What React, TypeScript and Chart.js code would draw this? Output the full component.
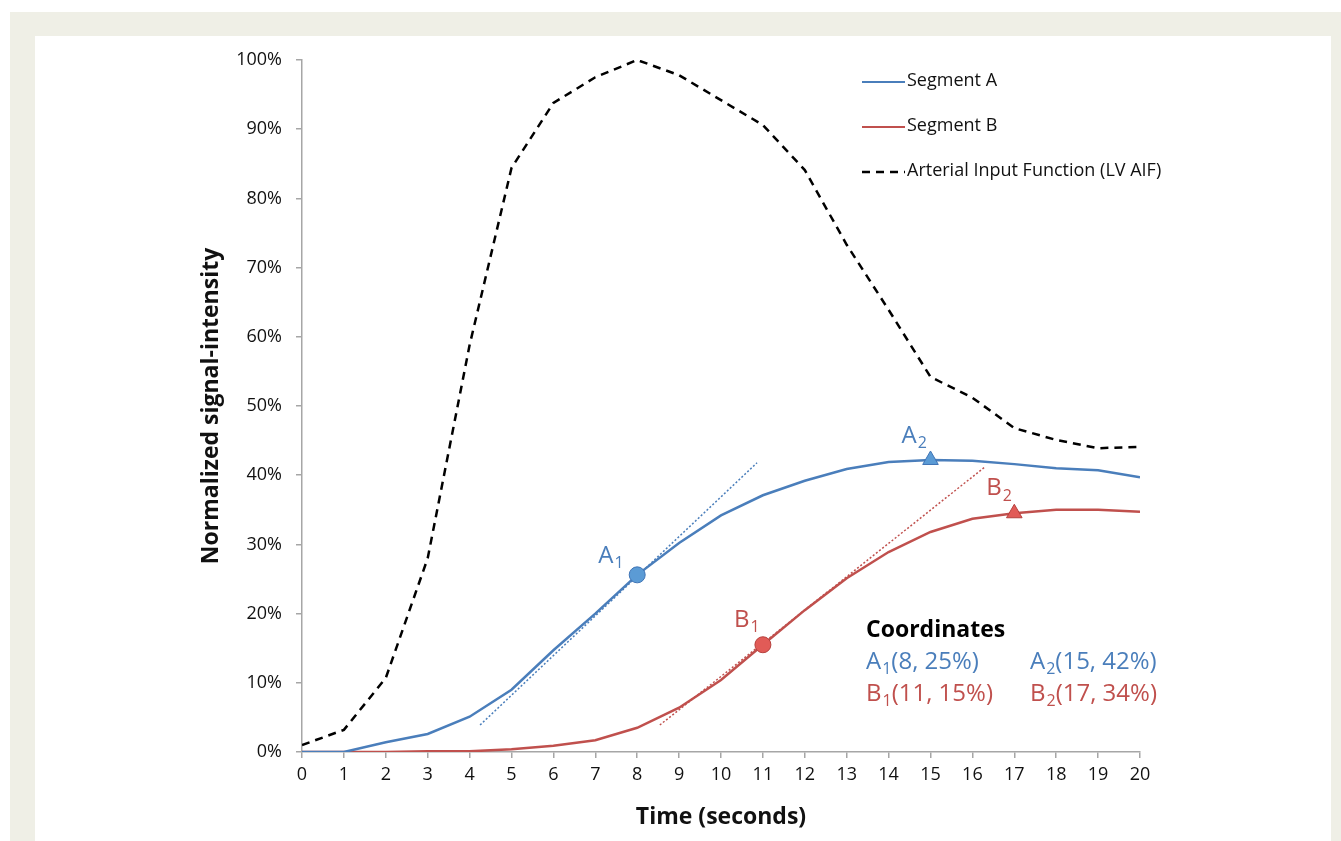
import React, { useEffect, useRef } from "react";
import { Chart, registerables } from "chart.js";

Chart.register(...registerables);

// ---- data ----
const timeSeconds = [0, 1, 2, 3, 4, 5, 6, 7, 8, 9, 10, 11, 12, 13, 14, 15, 16, 17, 18, 19, 20];
const segmentA = [0, 0, 1.4, 2.6, 5.1, 9.0, 14.7, 20.0, 25.6, 30.2, 34.2, 37.1, 39.2, 40.9, 41.9, 42.2, 42.1, 41.6, 41.0, 40.7, 39.7];
const segmentB = [0, 0, 0, 0.1, 0.1, 0.4, 0.9, 1.7, 3.5, 6.4, 10.4, 15.5, 20.5, 25.1, 28.9, 31.8, 33.7, 34.5, 35.0, 35.0, 34.7];
const arterialInput = [1.0, 3.2, 10.7, 28.0, 58.8, 84.4, 93.8, 97.5, 100, 97.8, 94.2, 90.6, 84.1, 73.3, 63.9, 54.2, 51.2, 46.8, 45.1, 43.9, 44.1];
const tangentAX = [4.25, 10.86];
const tangentAY = [3.9, 41.8];
const tangentBX = [8.54, 16.3];
const tangentBY = [3.9, 41.2];
const seriesNames = ["Segment A", "Segment B", "Arterial Input Function (LV AIF)"];
const pointTimesA = [8, 15];
const pointTimesB = [11, 17];
const coordTitle = "Coordinates";
const coordA = [["A", "1", "(8, 25%)"], ["A", "2", "(15, 42%)"]];
const coordB = [["B", "1", "(11, 15%)"], ["B", "2", "(17, 34%)"]];
const yTickMax = 100;

const BLUE = "#4a7ebb";
const RED = "#c0504d";
const FONT = "'Open Sans', Lato, sans-serif";

const pts = (xs: number[], ys: number[]) => xs.map((x, i) => ({ x, y: ys[i] }));
const seriesAt = (series: number[], times: number[]) =>
  times.map((t) => ({ x: t, y: series[timeSeconds.indexOf(t)] }));

function drawSub(ctx: CanvasRenderingContext2D, main: string, sub: string, tail: string, x: number, y: number, color: string, size: number) {
  ctx.save();
  ctx.fillStyle = color;
  ctx.textBaseline = "middle";
  ctx.textAlign = "left";
  ctx.font = `${size}px ${FONT}`;
  ctx.fillText(main, x, y);
  let cx = x + ctx.measureText(main).width;
  const subSize = Math.round(size * 0.68);
  ctx.font = `${subSize}px ${FONT}`;
  ctx.fillText(sub, cx + 1, y + size * 0.33);
  cx += ctx.measureText(sub).width + 1;
  ctx.font = `${size}px ${FONT}`;
  ctx.fillText(tail, cx, y);
  ctx.restore();
}

const annotations = {
  id: "annotations",
  afterDatasetsDraw(chart: any) {
    const ctx: CanvasRenderingContext2D = chart.ctx;
    const xs = chart.scales.x;
    const ys = chart.scales.y;
    const pA = seriesAt(segmentA, pointTimesA);
    const pB = seriesAt(segmentB, pointTimesB);
    // point labels
    drawSub(ctx, "A", "1", "", xs.getPixelForValue(pA[0].x) - 39, ys.getPixelForValue(pA[0].y) - 19, BLUE, 24);
    drawSub(ctx, "A", "2", "", xs.getPixelForValue(pA[1].x) - 29, ys.getPixelForValue(pA[1].y) - 24, BLUE, 24);
    drawSub(ctx, "B", "1", "", xs.getPixelForValue(pB[0].x) - 29, ys.getPixelForValue(pB[0].y) - 25, RED, 24);
    drawSub(ctx, "B", "2", "", xs.getPixelForValue(pB[1].x) - 28, ys.getPixelForValue(pB[1].y) - 25, RED, 24);

    // coordinates block
    ctx.save();
    ctx.fillStyle = "#000";
    ctx.textBaseline = "middle";
    ctx.font = `bold 23px ${FONT}`;
    ctx.fillText(coordTitle, 866, 630);
    ctx.restore();
    drawSub(ctx, coordA[0][0], coordA[0][1], coordA[0][2], 866, 662, BLUE, 24);
    drawSub(ctx, coordA[1][0], coordA[1][1], coordA[1][2], 1030, 662, BLUE, 24);
    drawSub(ctx, coordB[0][0], coordB[0][1], coordB[0][2], 866, 694, RED, 24);
    drawSub(ctx, coordB[1][0], coordB[1][1], coordB[1][2], 1030, 694, RED, 24);

    // legend
    const legendRows = [
      { name: seriesNames[0], color: BLUE, dash: [] as number[], y: 82 },
      { name: seriesNames[1], color: RED, dash: [] as number[], y: 127 },
      { name: seriesNames[2], color: "#000", dash: [8, 6], y: 172 },
    ];
    legendRows.forEach((r) => {
      ctx.save();
      ctx.strokeStyle = r.color;
      ctx.lineWidth = r.dash.length ? 2.5 : 2;
      ctx.setLineDash(r.dash);
      ctx.beginPath();
      ctx.moveTo(862, r.y);
      ctx.lineTo(905, r.y);
      ctx.stroke();
      ctx.setLineDash([]);
      ctx.fillStyle = "#111";
      ctx.textBaseline = "middle";
      ctx.font = `18px ${FONT}`;
      ctx.fillText(r.name, 907, r.y - 1);
      ctx.restore();
    });
  },
};

export default function App() {
  const ref = useRef<HTMLCanvasElement>(null);
  useEffect(() => {
    if (!ref.current) return;
    const chart = new Chart(ref.current, {
      type: "line",
      data: {
        datasets: [
          {
            label: "A markers circle",
            data: [seriesAt(segmentA, pointTimesA)[0]],
            showLine: false,
            pointStyle: "circle",
            pointRadius: 8,
            backgroundColor: "#5b9bd5",
            borderColor: "#3f74b5",
            borderWidth: 1,
            order: 0,
          },
          {
            label: "A markers tri",
            data: [seriesAt(segmentA, pointTimesA)[1]],
            showLine: false,
            pointStyle: "triangle",
            pointRadius: 9,
            backgroundColor: "#5b9bd5",
            borderColor: "#3f74b5",
            borderWidth: 1,
            order: 0,
          },
          {
            label: "B markers circle",
            data: [seriesAt(segmentB, pointTimesB)[0]],
            showLine: false,
            pointStyle: "circle",
            pointRadius: 8,
            backgroundColor: "#e15b57",
            borderColor: "#b5403d",
            borderWidth: 1,
            order: 0,
          },
          {
            label: "B markers tri",
            data: [seriesAt(segmentB, pointTimesB)[1]],
            showLine: false,
            pointStyle: "triangle",
            pointRadius: 9,
            backgroundColor: "#e15b57",
            borderColor: "#b5403d",
            borderWidth: 1,
            order: 0,
          },
          {
            label: seriesNames[0],
            data: pts(timeSeconds, segmentA),
            borderColor: BLUE,
            borderWidth: 2.5,
            pointRadius: 0,
            tension: 0,
            order: 2,
          },
          {
            label: seriesNames[1],
            data: pts(timeSeconds, segmentB),
            borderColor: RED,
            borderWidth: 2.5,
            pointRadius: 0,
            tension: 0,
            order: 2,
          },
          {
            label: seriesNames[2],
            data: pts(timeSeconds, arterialInput),
            borderColor: "#000",
            borderWidth: 2.5,
            borderDash: [8, 6],
            pointRadius: 0,
            tension: 0,
            order: 3,
          },
          {
            label: "tangent A",
            data: pts(tangentAX, tangentAY),
            borderColor: BLUE,
            borderWidth: 1.5,
            borderDash: [2, 2],
            pointRadius: 0,
            order: 1,
          },
          {
            label: "tangent B",
            data: pts(tangentBX, tangentBY),
            borderColor: RED,
            borderWidth: 1.5,
            borderDash: [2, 2],
            pointRadius: 0,
            order: 1,
          },
        ],
      },
      options: {
        responsive: false,
        animation: false,
        devicePixelRatio: 1,
        layout: { padding: { left: 190, top: 60, right: 201, bottom: 0 } },
        plugins: { legend: { display: false }, tooltip: { enabled: false } },
        scales: {
          x: {
            type: "linear",
            min: 0,
            max: 20,
            afterFit: (s: any) => {
              s.height = 89;
            },
            ticks: {
              stepSize: 1,
              color: "#111",
              padding: 6,
              maxRotation: 0,
              font: { family: FONT, size: 18 },
            },
            grid: {
              drawOnChartArea: false,
              drawTicks: true,
              tickLength: 6,
              color: "#a6a6a6",
              lineWidth: 1.5,
            },
            border: { color: "#a6a6a6", width: 1.5 },
            title: {
              display: true,
              text: "Time (seconds)",
              color: "#111",
              font: { family: FONT, size: 23, weight: "bold" },
              padding: { top: 0, bottom: 10 },
            },
          },
          y: {
            type: "linear",
            min: 0,
            max: yTickMax,
            afterFit: (s: any) => {
              s.width = 112;
            },
            ticks: {
              stepSize: 10,
              color: "#111",
              padding: 14,
              callback: (v: any) => `${v}%`,
              font: { family: FONT, size: 18 },
            },
            grid: {
              drawOnChartArea: false,
              drawTicks: true,
              tickLength: 6,
              color: "#a6a6a6",
              lineWidth: 1.5,
            },
            border: { color: "#a6a6a6", width: 1.5 },
            title: {
              display: true,
              text: "Normalized signal-intensity",
              color: "#111",
              font: { family: FONT, size: 23, weight: "bold" },
              padding: { top: 8, bottom: 0 },
            },
          },
        },
      },
      plugins: [annotations],
    } as any);
    return () => chart.destroy();
  }, []);

  return (
    <div style={{ position: "fixed", left: 0, top: 0, width: 1341, height: 841, background: "#fff", overflow: "hidden" }}>
      <div style={{ position: "absolute", left: 10, top: 12, width: 1331, height: 829, background: "#efefe6" }} />
      <div style={{ position: "absolute", left: 35, top: 36, width: 1296, height: 805, background: "#fff" }} />
      <canvas ref={ref} width={1341} height={841} style={{ position: "absolute", left: 0, top: 0, width: 1341, height: 841 }} />
    </div>
  );
}
